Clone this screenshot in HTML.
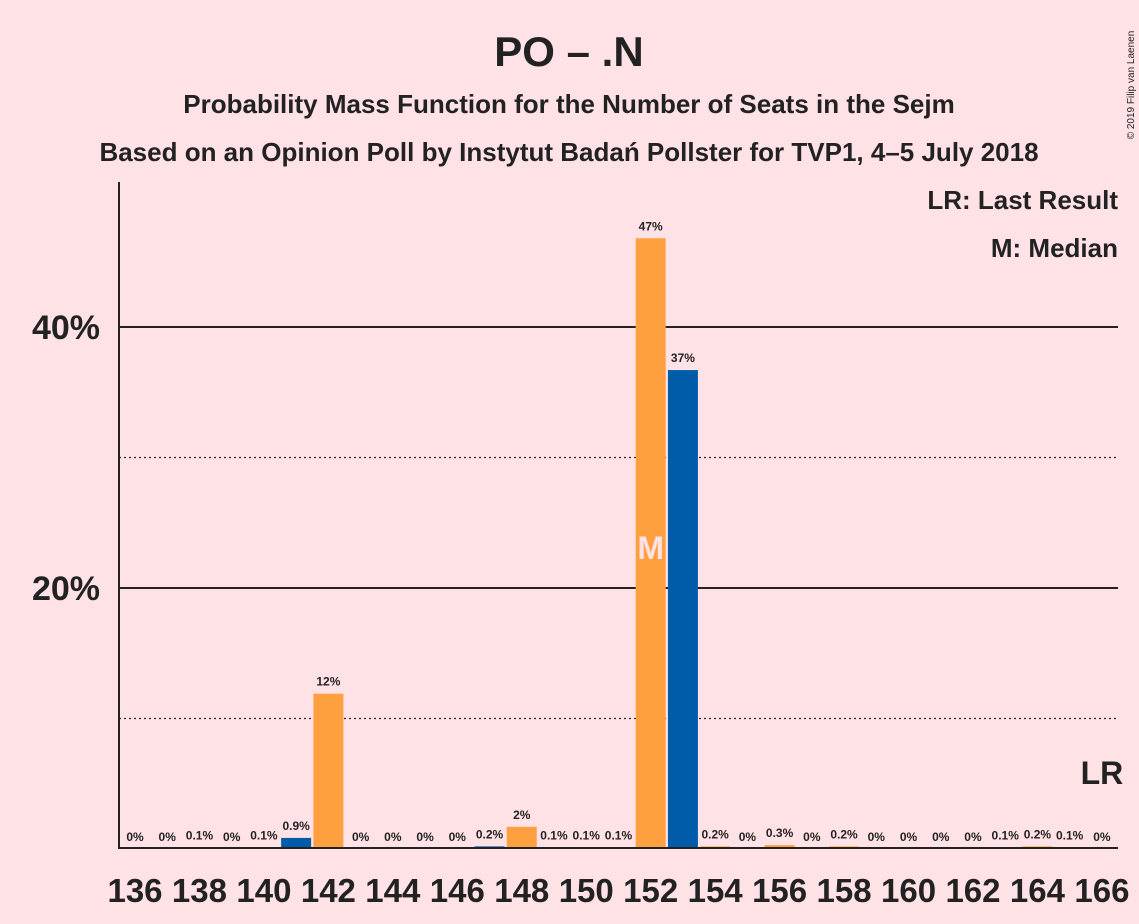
<!DOCTYPE html>
<html><head><meta charset="utf-8"><style>
body{margin:0;background:#FFE2E6;}
svg{display:block;font-family:"Liberation Sans",sans-serif;}
</style></head><body>
<svg id="chart" width="1139" height="924">
<rect width="1139" height="924" fill="#FFE2E6"/>
<text x="569" y="66" text-anchor="middle" font-size="42" font-weight="bold" fill="#222">PO – .N</text>
<text x="569" y="113" text-anchor="middle" font-size="26" font-weight="bold" fill="#222">Probability Mass Function for the Number of Seats in the Sejm</text>
<text x="569" y="161" text-anchor="middle" font-size="26" font-weight="bold" fill="#222">Based on an Opinion Poll by Instytut Badań Pollster for TVP1, 4–5 July 2018</text>
<text x="1134" y="85" font-size="10" fill="#222" transform="rotate(-90 1134 85)" text-anchor="middle">© 2019 Filip van Laenen</text>
<text x="1118" y="209" text-anchor="end" font-size="26" font-weight="bold" fill="#222">LR: Last Result</text>
<text x="1118" y="257" text-anchor="end" font-size="26" font-weight="bold" fill="#222">M: Median</text>
<g id="grid"></g><g id="bars"></g><g id="labels"></g>
<line x1="119" y1="182" x2="119" y2="849" stroke="#222" stroke-width="2"/>
<line x1="119" y1="848" x2="1118" y2="848" stroke="#222" stroke-width="2"/>
</svg>
<script>
const seats=[136,137,138,139,140,141,142,143,144,145,146,147,148,149,150,151,152,153,154,155,156,157,158,159,160,161,162,163,164,165,166];
const probs=[0,0,0.1,0,0.1,0.85,11.9,0,0,0,0,0.2,1.7,0.1,0.1,0.1,46.8,36.7,0.2,0,0.3,0,0.2,0,0,0,0,0.1,0.2,0.1,0];
const valueLabels=["0%","0%","0.1%","0%","0.1%","0.9%","12%","0%","0%","0%","0%","0.2%","2%","0.1%","0.1%","0.1%","47%","37%","0.2%","0%","0.3%","0%","0.2%","0%","0%","0%","0%","0.1%","0.2%","0.1%","0%"];
const yTicks=[10,20,30,40];
const medianSeat=152, lastResultSeat=166;
const ns="http://www.w3.org/2000/svg";
const xS=s=>135+(s-136)*32.23;
const yS=v=>849-v*13.05;
function mk(t,a,p){const e=document.createElementNS(ns,t);for(const k in a)e.setAttribute(k,a[k]);p.appendChild(e);return e;}
const grid=document.getElementById('grid'),bars=document.getElementById('bars'),labels=document.getElementById('labels');
yTicks.forEach(t=>{
 const solid=t%20===0;
 const l=mk('line',{x1:119,x2:1118,y1:yS(t),y2:yS(t),stroke:'#222','stroke-width':solid?2:1.2,'stroke-dasharray':solid?'':'2,3'},grid);
 
 
 if(solid){const tx=mk('text',{x:100,y:yS(t)+12,'text-anchor':'end','font-size':34,'font-weight':'bold',fill:'#222'},grid);tx.textContent=t+'%';
 
 }
});
seats.forEach((s,i)=>{
 const x=xS(s),v=probs[i];
 const r=mk('rect',{x:x-15,y:yS(v),width:30,height:Math.max(0,849-yS(v)),fill:s%2===0?'#FFA040':'#005BA8'},bars);
 
 
 const t=mk('text',{x:x,y:yS(v)-8,'text-anchor':'middle','font-size':12,'font-weight':'bold',fill:'#222'},labels);
 t.textContent=valueLabels[i];
 
 
 if(s%2===0){const xt=mk('text',{x:x,y:902,'text-anchor':'middle','font-size':33,'font-weight':'bold',fill:'#222'},labels);xt.textContent=s;
 
 }
 if(s===medianSeat){const m=mk('text',{x:x,y:559,'text-anchor':'middle','font-size':32,'font-weight':'bold',fill:'#FFE2E6'},labels);m.textContent='M';
 
 }
 if(s===lastResultSeat){const lr=mk('text',{x:x,y:784,'text-anchor':'middle','font-size':32,'font-weight':'bold',fill:'#222'},labels);lr.textContent='LR';
 
 }
});
</script>
</body></html>
